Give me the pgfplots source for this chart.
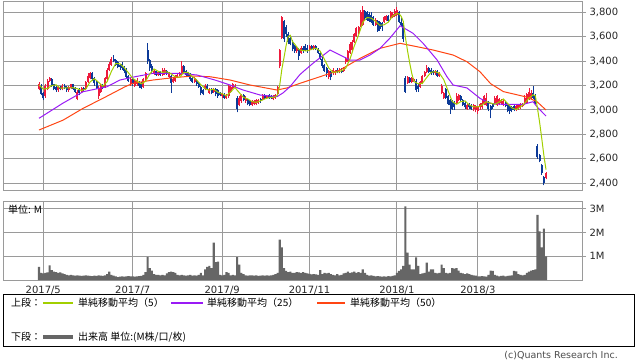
\documentclass[border=0pt]{standalone}
\usepackage{pgfplots}
\pgfplotsset{compat=1.18}
\usepackage{pgfplotstable}
\usepackage{fontspec}
\setmainfont{DejaVu Sans}
\newfontfamily\jp{Noto Sans CJK JP}
\definecolor{upc}{HTML}{EE1B3D}
\definecolor{dnc}{HTML}{0C3A98}
\definecolor{mafive}{HTML}{A2CF00}
\definecolor{matwentyfive}{HTML}{9A1AF5}
\definecolor{mafifty}{HTML}{FF4513}
\definecolor{gridc}{HTML}{9A9A9A}
\definecolor{volc}{HTML}{666666}

% d = trading day index, o h l c = price, v = volume in millions
\pgfplotstableread{
d o h l c v
0 3170 3230 3160 3215 0.55
1 3200 3210 3120 3130 0.30
2 3140 3150 3080 3095 0.28
3 3110 3210 3100 3200 0.30
4 3170 3250 3160 3240 0.32
5 3240 3270 3230 3260 0.62
6 3250 3260 3190 3200 0.42
7 3210 3215 3160 3170 0.35
8 3190 3200 3150 3160 0.33
9 3160 3200 3150 3190 0.30
10 3190 3200 3160 3170 0.32
11 3170 3210 3160 3200 0.28
12 3200 3215 3170 3180 0.25
13 3190 3195 3150 3160 0.22
14 3160 3200 3150 3190 0.20
15 3180 3215 3170 3210 0.22
16 3210 3215 3160 3170 0.20
17 3180 3190 3140 3150 0.18
18 3090 3160 3080 3150 0.20
19 3170 3180 3120 3140 0.18
20 3150 3190 3140 3180 0.17
21 3180 3190 3150 3160 0.18
22 3170 3240 3160 3230 0.20
23 3230 3300 3220 3280 0.18
24 3260 3310 3250 3300 0.17
25 3300 3310 3240 3250 0.16
26 3260 3270 3200 3220 0.18
27 3230 3240 3170 3180 0.17
28 3110 3200 3090 3180 0.20
29 3150 3210 3140 3200 0.18
30 3200 3210 3170 3190 0.17
31 3190 3270 3180 3260 0.20
32 3250 3340 3240 3330 0.25
33 3330 3390 3320 3380 0.35
34 3370 3430 3360 3420 0.22
35 3420 3450 3390 3400 0.18
36 3410 3420 3360 3370 0.15
37 3390 3400 3340 3350 0.12
38 3370 3380 3330 3350 0.14
39 3380 3390 3330 3340 0.15
40 3350 3360 3300 3320 0.14
41 3330 3340 3260 3270 0.15
42 3280 3290 3230 3240 0.16
43 3210 3260 3200 3250 0.15
44 3250 3260 3200 3210 0.15
45 3200 3250 3190 3240 0.14
46 3210 3260 3200 3240 0.15
47 3230 3240 3180 3200 0.16
48 3220 3230 3170 3180 0.17
49 3190 3260 3180 3250 0.22
50 3250 3310 3240 3300 0.33
51 3490 3550 3380 3400 0.97
52 3410 3420 3320 3340 0.50
53 3360 3380 3300 3320 0.40
54 3300 3330 3290 3320 0.25
55 3320 3330 3280 3290 0.22
56 3290 3320 3280 3310 0.22
57 3310 3320 3280 3290 0.20
58 3290 3340 3280 3330 0.22
59 3300 3340 3290 3330 0.20
60 3320 3330 3290 3300 0.28
61 3270 3310 3260 3300 0.33
62 3280 3290 3140 3220 0.35
63 3230 3260 3220 3250 0.33
64 3240 3290 3230 3280 0.30
65 3270 3300 3260 3290 0.22
66 3290 3310 3280 3300 0.20
67 3300 3400 3290 3360 0.22
68 3360 3370 3300 3310 0.20
69 3320 3330 3280 3290 0.18
70 3300 3310 3270 3280 0.20
71 3290 3300 3240 3250 0.22
72 3260 3270 3220 3230 0.18
73 3230 3270 3220 3260 0.20
74 3240 3250 3200 3210 0.18
75 3220 3230 3180 3190 0.22
76 3190 3200 3120 3140 0.30
77 3160 3170 3120 3130 0.20
78 3170 3210 3160 3200 0.45
79 3200 3210 3160 3170 0.55
80 3140 3180 3130 3170 0.60
81 3170 3180 3130 3140 0.50
82 3150 3180 3140 3170 1.58
83 3170 3180 3110 3130 0.75
84 3160 3170 3100 3110 0.78
85 3140 3150 3110 3120 0.22
86 3110 3140 3100 3130 0.20
87 3130 3140 3090 3100 0.22
88 3100 3130 3090 3120 0.33
89 3110 3210 3100 3200 0.30
90 3150 3200 3140 3190 0.20
91 3180 3220 3170 3210 0.22
92 3190 3210 3180 3200 0.20
93 3100 3110 2980 3010 0.96
94 3040 3110 3030 3100 0.65
95 3070 3130 3060 3120 0.30
96 3120 3130 3070 3080 0.25
97 3070 3110 3060 3100 0.20
98 3080 3090 3040 3050 0.18
99 3070 3080 3030 3040 0.20
100 3040 3080 3030 3070 0.20
101 3050 3080 3040 3070 0.18
102 3050 3090 3040 3080 0.20
103 3060 3090 3050 3080 0.17
104 3090 3100 3060 3070 0.18
105 3090 3130 3080 3120 0.20
106 3120 3130 3090 3100 0.18
107 3100 3120 3090 3110 0.20
108 3120 3130 3090 3100 0.18
109 3110 3120 3090 3100 0.20
110 3090 3120 3080 3110 0.22
111 3100 3130 3090 3120 0.25
112 3130 3200 3120 3190 0.30
113 3360 3500 3340 3490 1.70
114 3590 3770 3580 3760 1.38
115 3730 3740 3560 3580 0.50
116 3680 3700 3600 3620 0.38
117 3620 3640 3540 3560 0.33
118 3590 3600 3530 3540 0.35
119 3560 3570 3480 3500 0.30
120 3520 3530 3470 3480 0.30
121 3480 3520 3470 3510 0.33
122 3500 3510 3410 3440 0.32
123 3470 3520 3460 3510 0.30
124 3510 3520 3470 3490 0.33
125 3520 3540 3480 3490 0.30
126 3510 3530 3470 3490 0.28
127 3490 3530 3480 3520 0.26
128 3520 3530 3490 3500 0.24
129 3500 3530 3490 3520 0.25
130 3520 3530 3490 3500 0.24
131 3500 3510 3460 3470 0.22
132 3470 3480 3410 3420 0.42
133 3420 3430 3340 3360 0.25
134 3370 3380 3310 3320 0.30
135 3340 3350 3270 3300 0.28
136 3270 3330 3250 3320 0.30
137 3310 3320 3245 3270 0.25
138 3300 3340 3290 3330 0.22
139 3300 3330 3290 3320 0.20
140 3330 3340 3300 3310 0.25
141 3310 3340 3300 3330 0.20
142 3330 3340 3300 3310 0.22
143 3320 3350 3310 3340 0.28
144 3390 3430 3380 3420 0.30
145 3400 3490 3390 3480 0.35
146 3470 3560 3460 3540 0.30
147 3490 3570 3480 3560 0.32
148 3560 3630 3550 3620 0.35
149 3610 3680 3600 3670 0.30
150 3630 3690 3620 3680 0.33
151 3690 3820 3680 3800 0.30
152 3700 3850 3690 3820 0.45
153 3810 3820 3740 3750 0.30
154 3800 3810 3730 3740 0.22
155 3790 3800 3720 3730 0.18
156 3780 3800 3710 3720 0.20
157 3760 3770 3690 3700 0.17
158 3700 3750 3690 3740 0.15
159 3730 3740 3640 3650 0.16
160 3720 3730 3650 3660 0.15
161 3710 3720 3650 3680 0.14
162 3720 3770 3710 3760 0.15
163 3740 3780 3730 3770 0.14
164 3770 3780 3720 3730 0.16
165 3750 3810 3740 3800 0.15
166 3760 3800 3750 3790 0.17
167 3770 3830 3760 3810 0.20
168 3780 3840 3770 3820 0.30
169 3800 3810 3710 3720 0.38
170 3720 3750 3680 3700 0.45
171 3710 3720 3560 3580 0.60
172 3260 3280 3140 3150 3.10
173 3220 3280 3210 3270 1.15
174 3260 3270 3220 3230 0.65
175 3230 3270 3220 3260 0.45
176 3240 3260 3230 3250 0.45
177 3240 3250 3150 3160 0.95
178 3200 3210 3150 3170 0.60
179 3190 3240 3180 3230 0.25
180 3220 3290 3210 3280 0.28
181 3280 3320 3270 3310 0.30
182 3310 3370 3300 3340 0.73
183 3340 3350 3300 3310 0.35
184 3330 3340 3290 3300 0.45
185 3320 3330 3290 3300 0.45
186 3300 3330 3290 3320 0.30
187 3320 3330 3270 3280 0.28
188 3280 3310 3270 3300 0.30
189 3140 3210 3130 3200 0.65
190 3100 3150 3090 3140 0.50
191 3170 3180 3090 3100 0.30
192 3110 3120 3040 3050 0.28
193 3080 3090 2970 3040 0.30
194 3070 3080 3000 3010 0.50
195 3060 3070 3000 3020 0.48
196 3060 3140 3050 3110 0.50
197 3080 3130 3070 3120 0.40
198 3110 3120 3070 3080 0.30
199 3080 3090 3030 3040 0.28
200 3060 3070 3010 3020 0.25
201 3010 3050 3000 3040 0.28
202 3050 3060 3010 3020 0.25
203 3040 3050 3000 3010 0.22
204 3010 3050 2990 3040 0.20
205 3000 3040 2980 3030 0.18
206 2990 3030 2970 3020 0.15
207 3020 3060 3000 3050 0.15
208 3020 3080 3010 3060 0.16
209 3050 3120 3040 3110 0.15
210 3040 3140 3030 3100 0.14
211 3060 3070 2990 3010 0.22
212 3030 3040 2930 3000 0.40
213 3050 3060 3010 3020 0.38
214 3060 3110 3050 3100 0.22
215 3040 3120 3030 3110 0.18
216 3050 3100 3040 3090 0.15
217 3060 3090 3050 3080 0.17
218 3040 3080 3030 3070 0.18
219 3060 3070 3020 3030 0.15
220 3040 3050 2980 2990 0.17
221 3030 3040 2970 2990 0.18
222 3020 3030 2980 3000 0.20
223 3030 3040 2990 3000 0.38
224 3000 3040 2990 3030 0.36
225 3010 3050 3000 3040 0.25
226 3020 3060 3010 3050 0.22
227 3030 3060 3020 3050 0.20
228 3050 3120 3040 3100 0.22
229 3060 3140 3050 3130 0.30
230 3090 3180 3080 3150 0.35
231 3100 3160 3090 3140 0.40
232 3140 3200 3090 3100 0.42
233 3120 3130 3050 3060 0.45
234 2700 2720 2600 2610 2.75
235 2630 2640 2570 2580 2.05
236 2550 2560 2470 2480 1.38
237 2450 2460 2380 2400 2.17
238 2440 2490 2430 2480 1.00
}\daily

\pgfplotsset{
  chartbase/.style={
    scale only axis, width=579bp,
    xmin=-16.9, xmax=254.9,
    axis line style={gridc, line width=0.9bp},
    grid style={gridc, line width=0.9bp},
    xmajorgrids, ymajorgrids,
    xtick={2,44,86,127,168,206},
    x tick style={draw=none},
    ytick pos=right, yticklabel pos=right,
    tick align=outside, major tick length=4bp,
    y tick style={gridc, line width=0.9bp},
    yticklabel style={font=\fontsize{10bp}{12bp}\selectfont, text=black!85},
    xticklabel style={font=\fontsize{10bp}{12bp}\selectfont, text=black!85},
    /pgf/number format/assume math mode=true,
    /pgf/number format/1000 sep={,},
    scaled y ticks=false,
  },
  wick/.style={only marks, mark=*, mark size=0pt, mark options={draw=none, fill=none},
    error bars/y dir=plus, error bars/y explicit, error bars/error mark=none,
    error bars/error bar style={draw=#1, line width=0.9bp}},
  body/.style={only marks, mark=*, mark size=0pt, mark options={draw=none, fill=none},
    error bars/y dir=plus, error bars/y explicit, error bars/error mark=none,
    error bars/error bar style={draw=#1, line width=2bp}},
}

\begin{document}
\begin{tikzpicture}[x=1bp,y=1bp]
\path[use as bounding box] (0,0) rectangle (638,-362);

% ---------- price panel ----------
\begin{axis}[chartbase,
  at={(3bp,-190bp)}, anchor=south west, height=189bp,
  ymin=2343, ymax=3893,
  ytick={2400,2600,2800,3000,3200,3400,3600,3800},
  xticklabels={},
]
% up candles (red)
\addplot[restrict expr to domain={\thisrow{c}-\thisrow{o}}{0:10000}, wick=upc]
  table[x=d, y=l, y error plus expr=\thisrow{h}-\thisrow{l}] {\daily};
\addplot[restrict expr to domain={\thisrow{c}-\thisrow{o}}{0:10000}, body=upc]
  table[x=d, y=o, y error plus expr=\thisrow{c}-\thisrow{o}] {\daily};
% down candles (blue)
\addplot[restrict expr to domain={\thisrow{c}-\thisrow{o}}{-10000:-0.5}, wick=dnc]
  table[x=d, y=l, y error plus expr=\thisrow{h}-\thisrow{l}] {\daily};
\addplot[restrict expr to domain={\thisrow{c}-\thisrow{o}}{-10000:-0.5}, body=dnc]
  table[x=d, y=c, y error plus expr=\thisrow{o}-\thisrow{c}] {\daily};

% 50-day moving average
\addplot[mafifty, line width=1bp, mark=none] coordinates {
(0,2835)(11.3,2916)(20.7,3013)(30,3095)(40.4,3190)(44.1,3218)(53.5,3245)(62.9,3264)
(72.3,3278)(80.3,3272)(89.7,3245)(99.1,3204)(111.7,3163)(116.4,3180)(122.5,3218)
(131.9,3272)(141.3,3327)(150.7,3423)(160.1,3505)(169.5,3546)(177.5,3518)(185,3491)
(194.4,3450)(200.9,3395)(207,3313)(212,3215)(218,3150)(229,3105)(233.8,3067)(238,2999)};
% 25-day moving average
\addplot[matwentyfive, line width=1bp, mark=none] coordinates {
(0,2931)(11.3,3056)(20.7,3149)(31.9,3190)(38,3245)(45.1,3272)(53.5,3300)(66.2,3300)
(74.2,3286)(82.6,3245)(89.7,3204)(95.8,3163)(103.8,3122)(111.7,3108)(114.6,3140)
(117.8,3190)(122.5,3290)(124.9,3327)(128.6,3382)(136.6,3491)(141.3,3450)(146,3409)
(150.7,3409)(155.4,3450)(160.1,3505)(164.8,3590)(169.5,3690)(175.6,3628)(180.3,3546)
(186.9,3409)(191.5,3272)(194.4,3204)(200.9,3180)(207,3095)(211.7,3054)(217.8,3045)
(227.2,3045)(231.9,3067)(234.3,3015)(238,2950)};
% 5-day moving average
\addplot[mafive, line width=1bp, mark=none] coordinates {
(0,3205)(2,3170)(4,3176)(6,3199)(8,3206)(10,3178)(12,3180)(14,3180)(16,3182)(18,3174)
(20,3158)(22,3172)(24,3230)(26,3256)(28,3226)(30,3194)(32,3232)(34,3316)(36,3380)
(38,3378)(40,3346)(42,3304)(44,3258)(46,3236)(48,3214)(50,3234)(52,3294)(54,3336)
(56,3316)(58,3308)(60,3312)(62,3296)(64,3270)(66,3268)(68,3308)(70,3308)(72,3272)
(74,3246)(76,3206)(78,3174)(80,3162)(82,3170)(84,3144)(86,3132)(88,3116)(90,3148)
(92,3184)(93,3162)(94,3142)(96,3102)(98,3090)(100,3068)(102,3062)(104,3074)(106,3090)
(108,3100)(110,3104)(111,3108)(112,3124)(113,3202)(114,3334)(115,3428)(116,3528)
(117,3602)(118,3612)(119,3560)(120,3540)(122,3494)(124,3486)(126,3484)(128,3498)
(130,3506)(132,3482)(134,3414)(136,3344)(138,3308)(140,3310)(142,3320)(144,3342)
(146,3418)(148,3524)(150,3614)(152,3718)(154,3758)(156,3752)(158,3726)(160,3694)
(162,3698)(164,3720)(166,3770)(168,3790)(169,3788)(170,3768)(171,3726)(172,3594)
(173,3484)(174,3386)(175,3298)(176,3232)(178,3214)(180,3218)(182,3266)(184,3308)
(186,3314)(188,3300)(190,3248)(192,3158)(194,3068)(196,3046)(198,3068)(200,3074)
(202,3040)(204,3026)(206,3024)(208,3040)(210,3068)(212,3056)(214,3046)(216,3064)
(218,3090)(220,3052)(222,3016)(224,3002)(226,3024)(228,3054)(230,3096)(232,3124)
(233,3116)(234,3012)(235,2898)(236,2766)(237,2626)(238,2510)};
\end{axis}

% ---------- volume panel ----------
\begin{axis}[chartbase,
  at={(3bp,-280bp)}, anchor=south west, height=79bp,
  ymin=0, ymax=3.33,
  ytick={1,2,3}, yticklabels={1M,2M,3M},
  xticklabels={2017/5,2017/7,2017/9,2017/11,2018/1,2018/3},
  xticklabel style={yshift=1bp},
]
\addplot[ybar, bar width=1, bar shift=0pt, fill=volc, draw=none] table[x=d, y=v] {\daily};
\end{axis}

\node[anchor=west, font=\jp\fontsize{10bp}{12bp}\selectfont, inner sep=0pt] at (8,-209.5) {単位: M};

% ---------- legend ----------
\draw[black, line width=1bp] (3.5,-294.5) rectangle (634.5,-346);
\begin{scope}[every node/.style={anchor=west, inner sep=0pt, font=\jp\fontsize{10bp}{12bp}\selectfont}]
\node at (11,-303) {上段：};
\draw[draw=mafive, line width=1.2bp] (43,-303) -- (73,-303);
\node at (78,-303) {単純移動平均（5）};
\draw[draw=matwentyfive, line width=1.2bp] (171,-303) -- (203,-303);
\node at (207,-303) {単純移動平均（25）};
\draw[draw=mafifty, line width=1.2bp] (317,-303) -- (345,-303);
\node at (350,-303) {単純移動平均（50）};
\node at (11,-337) {下段：};
\draw[draw=volc, line width=3.5bp] (43,-337) -- (73,-337);
\node at (78,-337) {出来高 単位:(M株/口/枚)};
\end{scope}
\node[anchor=east, inner sep=0pt, font=\fontsize{9.5bp}{11bp}\selectfont, text=black!70] at (618,-356) {(c)Quants Research Inc.};
\end{tikzpicture}
\end{document}
